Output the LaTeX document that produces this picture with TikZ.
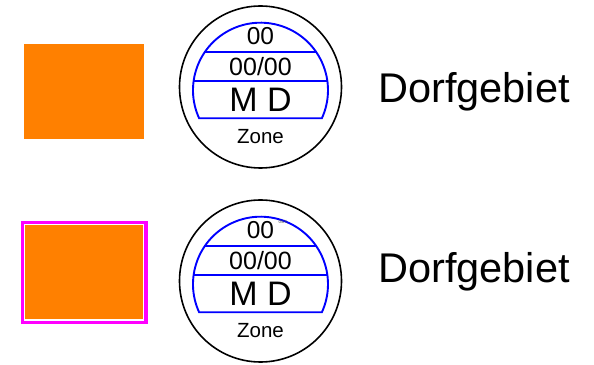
\documentclass[tikz,border=0pt]{standalone}
\usepackage{fontspec}
\setmainfont{Liberation Sans}
\definecolor{zoneorange}{HTML}{FF8000}
\definecolor{zonemagenta}{HTML}{FF00FF}
\definecolor{zoneblue}{HTML}{0000FF}
\def\fs#1{\fontsize{#1}{#1}\selectfont}

\begin{document}
\begin{tikzpicture}[x=1pt,y=1pt,
		zonering/.style={line width=1.6pt, color=black},
		zoneline/.style={line width=1.9pt, color=zoneblue},
		zonetext/.style={inner sep=0pt, anchor=center}]
			%%%%% START %%%%%
			\useasboundingbox (0, 0) rectangle (594, 364);
			
			% plain area
			\fill[zoneorange] (24, 225) rectangle (144, 320);
			
			% area with magenta frame
			\draw[line width=3.5pt, color=zonemagenta, fill=white] (22.5, 41.5) rectangle (146, 141.5);
			\fill[zoneorange] (24.5, 45) rectangle (143, 138.5);
			
			% upper zone sign
			\begin{scope}[shift={(260.5, 277)}]
				\draw[zonering] (0, 0) circle (81);
				\begin{scope}[shift={(0, -3.2)}]
					\draw[zoneline] (204.6:67.5) arc (204.6:-24.6:67.5) -- cycle;
					\draw[zoneline] (145.2:67.5) -- (34.8:67.5);
					\draw[zoneline] (171.9:67.5) -- (8.1:67.5);
				\end{scope}
				\node[zonetext] (nrA) at (0, 50.5) {\fs{24.5}00};
				\node[zonetext] (numA) at (0, 20.5) {\fs{25}00/00};
				\node[zonetext] (typeA) at (0, -13) {\fs{34}M D};
				\node[zonetext] (zoneA) at (0, -50) {\fs{20.5}Zone};
			\end{scope}
			
			% lower zone sign
			\begin{scope}[shift={(260.5, 83)}]
				\draw[zonering] (0, 0) circle (81);
				\begin{scope}[shift={(0, -3.2)}]
					\draw[zoneline] (204.6:67.5) arc (204.6:-24.6:67.5) -- cycle;
					\draw[zoneline] (145.2:67.5) -- (34.8:67.5);
					\draw[zoneline] (171.9:67.5) -- (8.1:67.5);
				\end{scope}
				\node[zonetext] (nrB) at (0, 50.5) {\fs{24.5}00};
				\node[zonetext] (numB) at (0, 20.5) {\fs{25}00/00};
				\node[zonetext] (typeB) at (0, -13) {\fs{34}M D};
				\node[zonetext] (zoneB) at (0, -50) {\fs{20.5}Zone};
				\node[zonetext, color=black!70] (refB) at (22.5, 59) {\fs{4.5}05/1};
			\end{scope}
			
			\node[inner sep=0pt, anchor=base west] (nameA) at (378, 261.3) {\fs{41.5}Dorfgebiet};
			\node[inner sep=0pt, anchor=base west] (nameB) at (378, 81.3) {\fs{41.5}Dorfgebiet};
			%%%%% END %%%%%
		\end{tikzpicture}
\end{document}
